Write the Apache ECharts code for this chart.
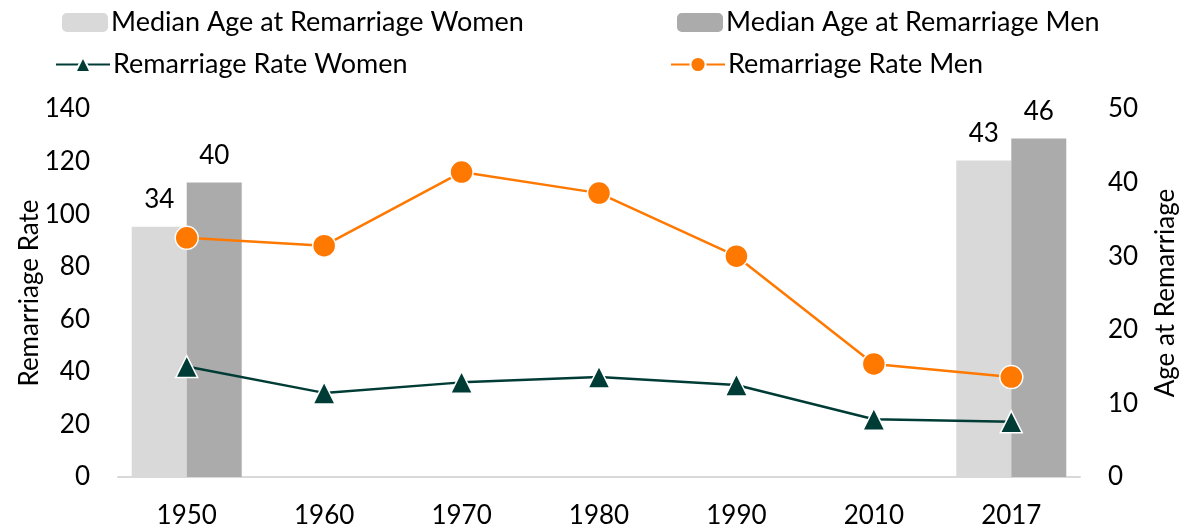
<!DOCTYPE html>
<html>
<head>
<meta charset="utf-8">
<script src="https://cdn.jsdelivr.net/npm/echarts@6/dist/echarts.min.js"></script>
<style>
  html, body { margin: 0; padding: 0; background: #fff; }
  #chart { width: 1183px; height: 529px; }
</style>
</head>
<body>
<div id="chart"></div>
<script>
const years = ['1950', '1960', '1970', '1980', '1990', '2010', '2017'];
const ageWomen = [34, null, null, null, null, null, 43];
const ageMen = [40, null, null, null, null, null, 46];
const rateWomen = [42, 32, 36, 38, 35, 22, 21];
const rateMen = [91, 88, 116, 108, 84, 43, 38];
const leftTicks = { min: 0, max: 140, interval: 20 };
const rightTicks = { min: 0, max: 50, interval: 10 };

const font = 'Lato, "Open Sans", sans-serif';
const fs = 26;
const legFs = 27;

let chart = echarts.init(document.getElementById('chart'));
const legendText = { fontSize: legFs, color: '#000', fontFamily: font, padding: [0, 0, 0, -2] };

chart.setOption({
    textStyle: { fontFamily: font },
    legend: [
        { left: 57, top: 4, itemWidth: 46, itemHeight: 19, textStyle: legendText, data: ['Median Age at Remarriage Women'] },
        { left: 672, top: 4, itemWidth: 46, itemHeight: 19, textStyle: legendText, data: ['Median Age at Remarriage Men'] },
        { left: 50, top: 46, itemWidth: 54, itemHeight: 19, textStyle: legendText, data: ['Remarriage Rate Women'] },
        { left: 665, top: 46, itemWidth: 54, itemHeight: 19, textStyle: legendText, data: ['Remarriage Rate Men'] }
    ],
    grid: { left: 118, right: 103, top: 109, bottom: 52, outerBoundsMode: 'none' },
    xAxis: {
        type: 'category',
        data: years,
        axisLine: { lineStyle: { color: '#d9d9d9', width: 2 } },
        axisTick: { show: false },
        axisLabel: { color: '#000', fontSize: fs, margin: 26 }
    },
    yAxis: [
        {
            type: 'value',
            min: leftTicks.min, max: leftTicks.max, interval: leftTicks.interval,
            name: 'Remarriage Rate',
            nameLocation: 'middle',
            nameGap: 88,
            nameRotate: 90,
            nameMoveOverlap: false,
            nameTextStyle: { color: '#000', fontSize: fs, verticalAlign: 'middle' },
            splitLine: { show: false },
            axisLine: { show: false },
            axisLabel: { color: '#000', fontSize: fs, margin: 28 }
        },
        {
            type: 'value',
            min: rightTicks.min, max: rightTicks.max, interval: rightTicks.interval,
            name: 'Age at Remarriage',
            nameLocation: 'middle',
            nameGap: 86,
            nameRotate: 90,
            nameMoveOverlap: false,
            nameTextStyle: { color: '#000', fontSize: fs, verticalAlign: 'middle' },
            splitLine: { show: false },
            axisLine: { show: false },
            axisLabel: { color: '#000', fontSize: fs, margin: 28 }
        }
    ],
    series: [
        {
            name: 'Median Age at Remarriage Women',
            type: 'bar',
            yAxisIndex: 1,
            data: ageWomen,
            barWidth: 55,
            barGap: '0%',
            itemStyle: { color: '#d9d9d9' },
            label: { show: true, position: 'top', distance: 14, color: '#000', fontSize: fs }
        },
        {
            name: 'Median Age at Remarriage Men',
            type: 'bar',
            yAxisIndex: 1,
            data: ageMen,
            barWidth: 55,
            barGap: '0%',
            itemStyle: { color: '#ababab' },
            label: { show: true, position: 'top', distance: 14, color: '#000', fontSize: fs }
        },
        {
            name: 'Remarriage Rate Women',
            type: 'line',
            yAxisIndex: 0,
            data: rateWomen,
            symbol: 'triangle',
            symbolSize: 22,
            lineStyle: { color: '#003c36', width: 2.5 },
            itemStyle: { color: '#003c36', borderColor: '#fff', borderWidth: 1.5 }
        },
        {
            name: 'Remarriage Rate Men',
            type: 'line',
            yAxisIndex: 0,
            data: rateMen,
            symbol: 'circle',
            symbolSize: 23,
            lineStyle: { color: '#ff7800', width: 2.5 },
            itemStyle: { color: '#ff7800', borderColor: '#fff', borderWidth: 1.5 }
        }
    ]
});
</script>
</body>
</html>
